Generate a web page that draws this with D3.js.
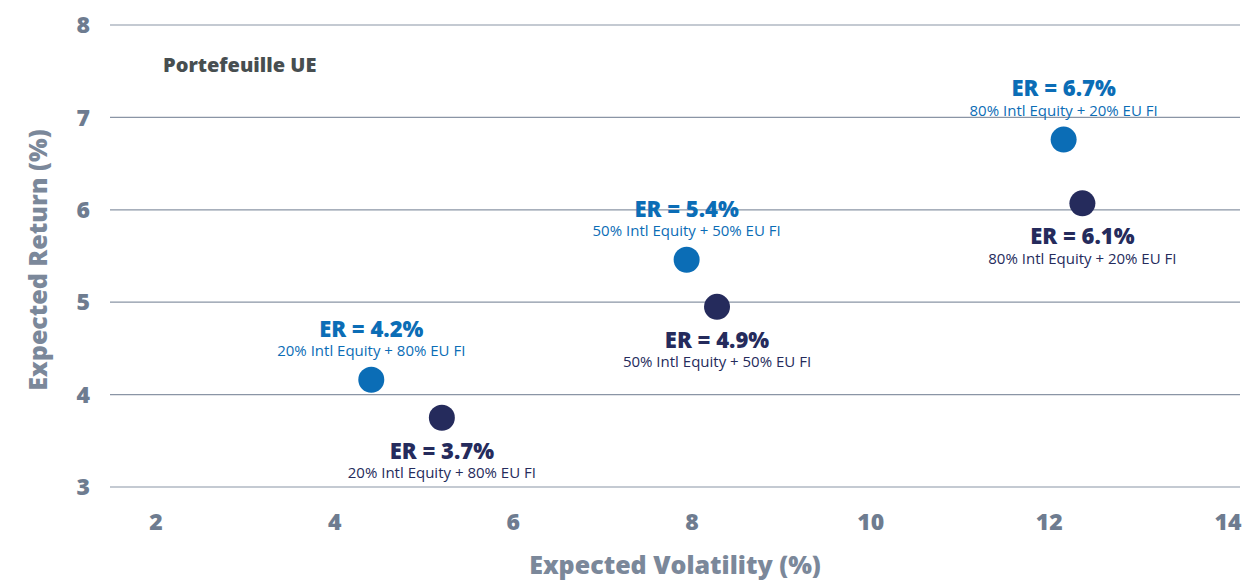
<!DOCTYPE html>
<html><head><meta charset="utf-8">
<script src="https://cdn.jsdelivr.net/npm/d3@7"></script>
<style>body{margin:0;background:#fff}svg{display:block;font-family:"Open Sans",Lato,sans-serif}</style>
</head><body><svg id="c" width="1243" height="580"></svg>
<script>
const xTicks=[2,4,6,8,10,12,14];
const yTicks=[3,4,5,6,7,8];
const mixes=["20% Intl Equity + 80% EU FI","50% Intl Equity + 50% EU FI","80% Intl Equity + 20% EU FI"];
const blueVol=[4.41,7.94,12.16];
const blueRet=[4.16,5.46,6.76];
const blueLbl=["ER = 4.2%","ER = 5.4%","ER = 6.7%"];
const navyVol=[5.20,8.28,12.37];
const navyRet=[3.75,4.95,6.07];
const navyLbl=["ER = 3.7%","ER = 4.9%","ER = 6.1%"];

const svg=d3.select("#c");
const x=d3.scaleLinear().domain([2,14]).range([156,1228]);
const y=d3.scaleLinear().domain([3,8]).range([487,25]);
const gridC="#8a95a5", tickC="#6e7c90";

svg.append("g").selectAll("line").data(yTicks).join("line")
 .attr("x1",110).attr("x2",1240).attr("y1",d=>y(d)).attr("y2",d=>y(d))
 .attr("stroke",gridC).attr("stroke-width",1.2);
svg.append("g").selectAll("text").data(yTicks).join("text")
 .attr("x",90).attr("y",d=>y(d)).attr("dy","0.36em").attr("text-anchor","end")
 .attr("font-size",23).attr("font-weight",800).attr("fill",tickC).text(d=>d);
svg.append("g").selectAll("text").data(xTicks).join("text")
 .attr("x",d=>x(d)).attr("y",522).attr("dy","0.36em").attr("text-anchor","middle")
 .attr("font-size",23).attr("font-weight",800).attr("fill",tickC).text(d=>d);

svg.append("text").attr("x",675).attr("y",565).attr("dy","0.36em").attr("text-anchor","middle")
 .attr("font-size",25).attr("font-weight",800).attr("fill","#7b889a").text("Expected Volatility (%)");
svg.append("text").attr("transform","translate(38,260) rotate(-90)").attr("dy","0.36em").attr("text-anchor","middle")
 .attr("font-size",25).attr("font-weight",800).attr("fill","#7b889a").text("Expected Return (%)");
svg.append("text").attr("x",163).attr("y",65).attr("dy","0.36em")
 .attr("font-size",20).attr("font-weight",800).attr("fill","#474e50").text("Portefeuille UE");

function series(vols,rets,lbls,color,tOff,sOff){
  const d=vols.map((v,i)=>({v,r:rets[i],l:lbls[i],m:mixes[i]}));
  const g=svg.append("g");
  g.selectAll("circle").data(d).join("circle")
   .attr("cx",e=>x(e.v)).attr("cy",e=>y(e.r)).attr("r",13).attr("fill",color);
  g.selectAll("text.t").data(d).join("text").attr("class","t")
   .attr("x",e=>x(e.v)).attr("y",e=>y(e.r)+tOff).attr("dy","0.36em").attr("text-anchor","middle")
   .attr("font-size",22).attr("font-weight",800).attr("fill",color).text(e=>e.l);
  g.selectAll("text.s").data(d).join("text").attr("class","s")
   .attr("x",e=>x(e.v)).attr("y",e=>y(e.r)+sOff).attr("dy","0.36em").attr("text-anchor","middle")
   .attr("font-size",15).attr("fill",color).text(e=>e.m);
}
series(blueVol,blueRet,blueLbl,"#0b6db6",-51,-29);
series(navyVol,navyRet,navyLbl,"#252b5c",33,55);
</script></body></html>
